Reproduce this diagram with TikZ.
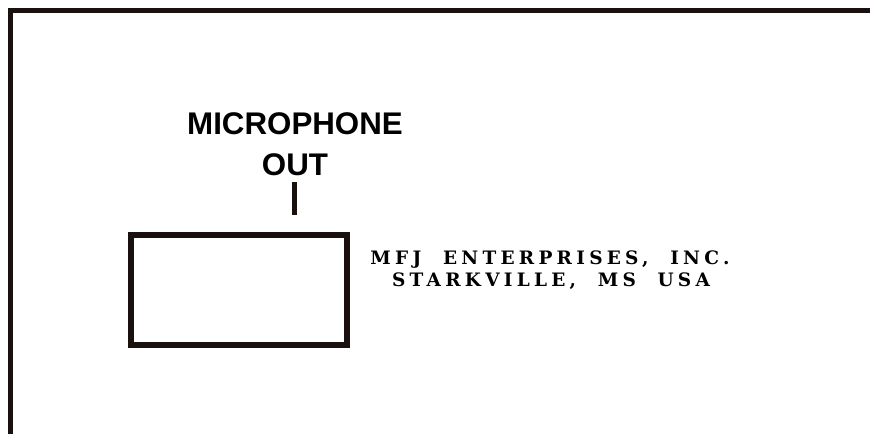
\documentclass[tikz,border=0pt]{standalone}
\usepackage{fontspec}
\setmainfont{Liberation Sans}
\newfontfamily\platefont[LetterSpace=23]{DejaVu Serif Bold}
\usetikzlibrary{positioning}
\definecolor{panelink}{RGB}{26,16,14}

\begin{document}
\begin{tikzpicture}[x=1pt, y=-1pt,
    panel/.style={draw=panelink, line width=5pt},
    socket/.style={draw=panelink, line width=6pt, inner sep=0pt,
    minimum width=216pt, minimum height=110.5pt},
    legend/.style={font=\fontsize{31.3}{41}\selectfont\bfseries, inner sep=0pt, anchor=base},
    maker/.style={font=\fontsize{18.5}{22}\selectfont\platefont, inner sep=0pt, anchor=base}
    ]
    \useasboundingbox (0,0) rectangle (870,434);

    % panel edges
    \draw[panel] (10.5,434) -- (10.5,10.5) -- (870,10.5);

    \node[socket](jack) at (239,289.75) {};
    \node[legend](mic) at (295,134) {MICROPHONE};
    \node[legend](out) at (295,175) {OUT};
    \draw[panel] (294,182) -- (294,215);

    \node[maker](firm) at (550,264.3) {MFJ\hspace{11pt} ENTERPRISES,\hspace{11pt} INC.};
    \node[maker](town) at (551,286.7) {STARKVILLE,\hspace{11pt} MS\hspace{11pt} USA};
\end{tikzpicture}
\end{document}
